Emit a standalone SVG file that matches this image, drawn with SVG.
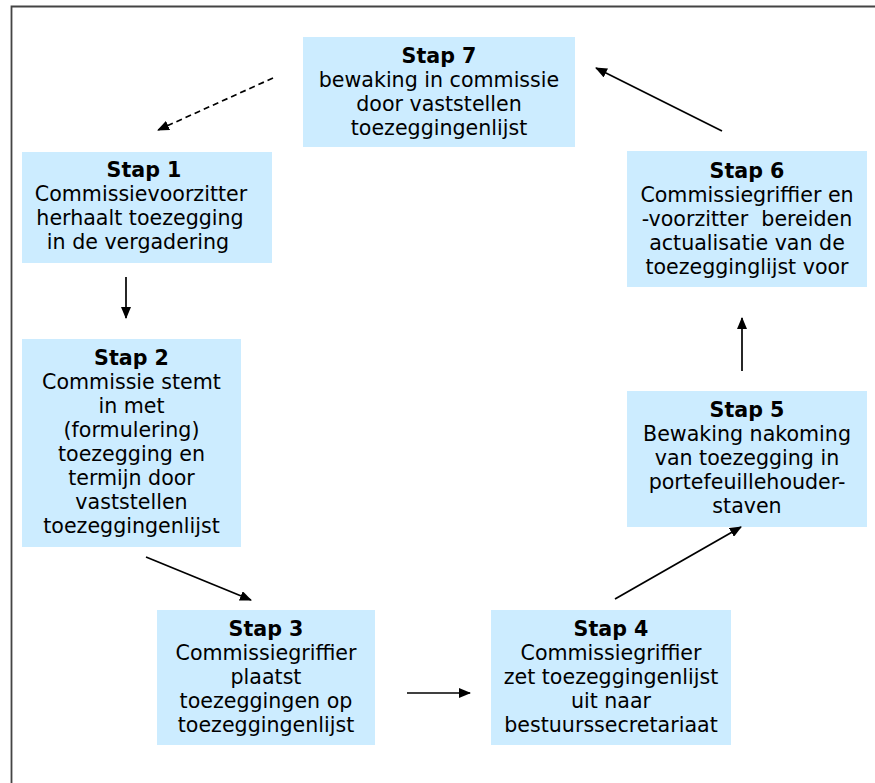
<svg xmlns="http://www.w3.org/2000/svg" width="875" height="783" viewBox="0 0 875 783">
<defs>
<marker id="ah" viewBox="0 0 12 10" refX="11" refY="5" markerWidth="12" markerHeight="10" markerUnits="userSpaceOnUse" orient="auto">
<path d="M0,0 L12,5 L0,10 z" fill="#000"/>
</marker>
<style>
.box{fill:#CCECFF;}
.t{font-family:"DejaVu Sans","Liberation Sans",sans-serif;font-size:20.6px;fill:#000;text-anchor:middle;white-space:pre;}
.b{font-weight:bold;}
.c{stroke:#000;stroke-width:1.7;fill:none;marker-end:url(#ah);}
.d{stroke-dasharray:6,4;}
</style>
</defs>
<rect x="0" y="0" width="875" height="783" fill="#fff"/>
<path d="M11.5,783 L11.5,6.5 L875,6.5" fill="none" stroke="#444" stroke-width="1.8"/>

<g id="stap7">
<rect class="box" x="303" y="37" width="272" height="110"/>
<text class="t" x="439" y="63"><tspan class="b">Stap 7</tspan><tspan x="439" dy="24">bewaking in commissie</tspan><tspan x="439" dy="24">door vaststellen</tspan><tspan x="439" dy="24">toezeggingenlijst</tspan></text>
</g>

<g id="stap1">
<rect class="box" x="22" y="152" width="250" height="111"/>
<text class="t" x="144" y="177"><tspan class="b">Stap 1</tspan><tspan x="141" dy="24">Commissievoorzitter</tspan><tspan x="140" dy="24">herhaalt toezegging</tspan><tspan x="138" dy="24">in de vergadering</tspan></text>
</g>

<g id="stap2">
<rect class="box" x="22" y="339" width="219" height="208"/>
<text class="t" x="131.5" y="365"><tspan class="b">Stap 2</tspan><tspan x="131.5" dy="24">Commissie stemt</tspan><tspan x="131.5" dy="24">in met</tspan><tspan x="131.5" dy="24">(formulering)</tspan><tspan x="131.5" dy="24">toezegging en</tspan><tspan x="131.5" dy="24">termijn door</tspan><tspan x="131.5" dy="24">vaststellen</tspan><tspan x="131.5" dy="24">toezeggingenlijst</tspan></text>
</g>

<g id="stap3">
<rect class="box" x="157" y="610" width="218" height="135"/>
<text class="t" x="266" y="636"><tspan class="b">Stap 3</tspan><tspan x="266" dy="24">Commissiegriffier</tspan><tspan x="266" dy="24">plaatst</tspan><tspan x="266" dy="24">toezeggingen op</tspan><tspan x="266" dy="24">toezeggingenlijst</tspan></text>
</g>

<g id="stap4">
<rect class="box" x="491" y="610" width="240" height="135"/>
<text class="t" x="611" y="636"><tspan class="b">Stap 4</tspan><tspan x="611" dy="24">Commissiegriffier</tspan><tspan x="611" dy="24">zet toezeggingenlijst</tspan><tspan x="611" dy="24">uit naar</tspan><tspan x="611" dy="24">bestuurssecretariaat</tspan></text>
</g>

<g id="stap5">
<rect class="box" x="627" y="391" width="240" height="136"/>
<text class="t" x="747" y="417"><tspan class="b">Stap 5</tspan><tspan x="747" dy="24">Bewaking nakoming</tspan><tspan x="747" dy="24">van toezegging in</tspan><tspan x="747" dy="24">portefeuillehouder-</tspan><tspan x="747" dy="24">staven</tspan></text>
</g>

<g id="stap6">
<rect class="box" x="627" y="151" width="240" height="136"/>
<text class="t" x="747" y="178"><tspan class="b">Stap 6</tspan><tspan x="747" dy="24">Commissiegriffier en</tspan><tspan x="747" dy="24">-voorzitter  bereiden</tspan><tspan x="747" dy="24">actualisatie van de</tspan><tspan x="747" dy="24">toezegginglijst voor</tspan></text>
</g>

<g id="connectors">
<line class="c d" x1="273" y1="78" x2="158" y2="130"/>
<line class="c" x1="126" y1="277" x2="126" y2="318"/>
<line class="c" x1="146" y1="557" x2="251" y2="600"/>
<line class="c" x1="407" y1="693" x2="470" y2="693"/>
<line class="c" x1="615" y1="599" x2="741" y2="527"/>
<line class="c" x1="742" y1="371" x2="742" y2="318"/>
<line class="c" x1="722" y1="131" x2="596" y2="68"/>
</g>
</svg>
